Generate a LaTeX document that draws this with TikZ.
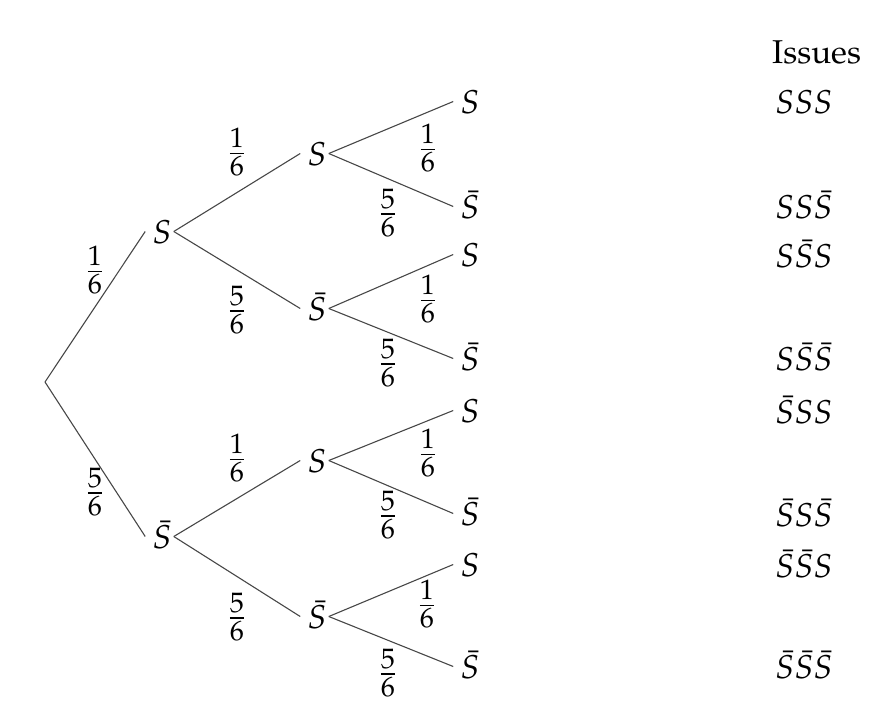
\documentclass[tikz,border=0pt]{standalone}
\usepackage[T1]{fontenc}
\usepackage{mathpazo}
\begin{document}
\begin{tikzpicture}[x=1pt,y=-1pt,
  every node/.style={font=\fontsize{33}{40}\selectfont, inner sep=0pt},
  st/.style={anchor=base, text height=23pt, text depth=0pt, inner xsep=7pt},
  pr/.style={font=\fontsize{37}{44}\selectfont},
  res/.style={anchor=base west},
  br/.style={draw=black!72, line width=1.1pt}]
\useasboundingbox (0,0) rectangle (894,718);
% root
\coordinate (r) at (45,382);
% level 1
\node[st] (a) at (162,243) {$S$};
\node[st] (b) at (162,548) {$\bar S$};
% level 2
\node[st] (aa) at (317,165) {$S$};
\node[st] (ab) at (317,320) {$\bar S$};
\node[st] (ba) at (317,472) {$S$};
\node[st] (bb) at (317,628) {$\bar S$};
% leaves
\node[st] (l1) at (470,113) {$S$};
\node[st] (l2) at (470,218) {$\bar S$};
\node[st] (l3) at (470,266) {$S$};
\node[st] (l4) at (470,370) {$\bar S$};
\node[st] (l5) at (470,422) {$S$};
\node[st] (l6) at (470,525) {$\bar S$};
\node[st] (l7) at (470,576) {$S$};
\node[st] (l8) at (470,678) {$\bar S$};
% branches
\draw[br] (r) -- (a.west);
\draw[br] (r) -- (b.west);
\draw[br] ([xshift=-5pt]a.east) -- (aa.west);
\draw[br] ([xshift=-5pt]a.east) -- (ab.west);
\draw[br] ([xshift=-5pt]b.east) -- (ba.west);
\draw[br] ([xshift=-5pt]b.east) -- (bb.west);
\draw[br] ([xshift=-5pt]aa.east) -- (l1.west);
\draw[br] ([xshift=-5pt]aa.east) -- (l2.west);
\draw[br] ([xshift=-5pt]ab.east) -- (l3.west);
\draw[br] ([xshift=-5pt]ab.east) -- (l4.west);
\draw[br] ([xshift=-5pt]ba.east) -- (l5.west);
\draw[br] ([xshift=-5pt]ba.east) -- (l6.west);
\draw[br] ([xshift=-5pt]bb.east) -- (l7.west);
\draw[br] ([xshift=-5pt]bb.east) -- (l8.west);
% probabilities
\node[pr] (p1) at (95,270) {$\frac{1}{6}$};
\node[pr] (p2) at (95,492) {$\frac{5}{6}$};
\node[pr] (p3) at (237,152) {$\frac{1}{6}$};
\node[pr] (p4) at (237,310) {$\frac{5}{6}$};
\node[pr] (p5) at (237,458) {$\frac{1}{6}$};
\node[pr] (p6) at (237,617) {$\frac{5}{6}$};
\node[pr] (p7) at (428,148) {$\frac{1}{6}$};
\node[pr] (p8) at (388,213) {$\frac{5}{6}$};
\node[pr] (p9) at (428,299) {$\frac{1}{6}$};
\node[pr] (p10) at (388,363) {$\frac{5}{6}$};
\node[pr] (p11) at (428,453) {$\frac{1}{6}$};
\node[pr] (p12) at (388,515) {$\frac{5}{6}$};
\node[pr] (p13) at (427,604) {$\frac{1}{6}$};
\node[pr] (p14) at (388,673) {$\frac{5}{6}$};
% outcomes
\node[res] (hd) at (772,63) {Issues};
\node[res] (o1) at (775,113) {$SSS$};
\node[res] (o2) at (775,218) {$SS\bar S$};
\node[res] (o3) at (775,267) {$S\bar SS$};
\node[res] (o4) at (775,370) {$S\bar S\bar S$};
\node[res] (o5) at (775,423) {$\bar SSS$};
\node[res] (o6) at (775,526) {$\bar SS\bar S$};
\node[res] (o7) at (775,577) {$\bar S\bar SS$};
\node[res] (o8) at (775,678) {$\bar S\bar S\bar S$};
\end{tikzpicture}
\end{document}
